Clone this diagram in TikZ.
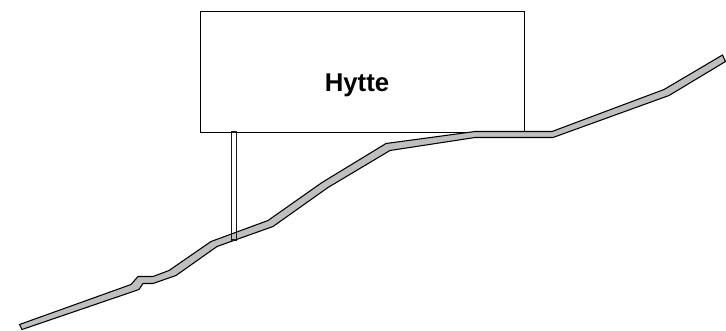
\documentclass[tikz,border=0pt]{standalone}
\usepackage{fontspec}
\setmainfont{Liberation Sans}
\tikzset{
	hut/.style={draw,rectangle,line width=0.6pt,fill=white,minimum width=243pt,minimum height=90.75pt},
	hutlabel/.style={font=\bfseries\fontsize{19.3}{22}\selectfont},
	ground/.style={draw,line width=0.8pt,fill=gray!50,line join=miter},
	post/.style={draw=black!90,line width=0.8pt}
}
\begin{document}
\begin{tikzpicture}[x=0.75pt,y=-0.75pt]
	\useasboundingbox (0,0) rectangle (726,330);
	\node[hut] (hytte) at (362,71.5) {};
	\node[hutlabel] (label) at (357,85) {Hytte};
	\draw[ground] (19.5,324.5) -- (131,284.5) -- (138,276.5) -- (153,276.5) -- (169,270.5) -- (211,241.5) -- (268,220.5) -- (322,182.5) -- (386,143.5) -- (475,131.5) -- (552,131.5) -- (664,89.5) -- (722.5,55)
		-- (725.5,61.5) -- (669,95.5) -- (553,137.5) -- (475,137.5) -- (390,150.5) -- (328,187.5) -- (273,226.5) -- (217,246.5) -- (176,275.5) -- (153,283.5) -- (143,283.5) -- (139,289.5) -- (22,329.5) -- cycle;
	\draw[post] (231.5,132) rectangle (236.5,240);
\end{tikzpicture}
\end{document}
